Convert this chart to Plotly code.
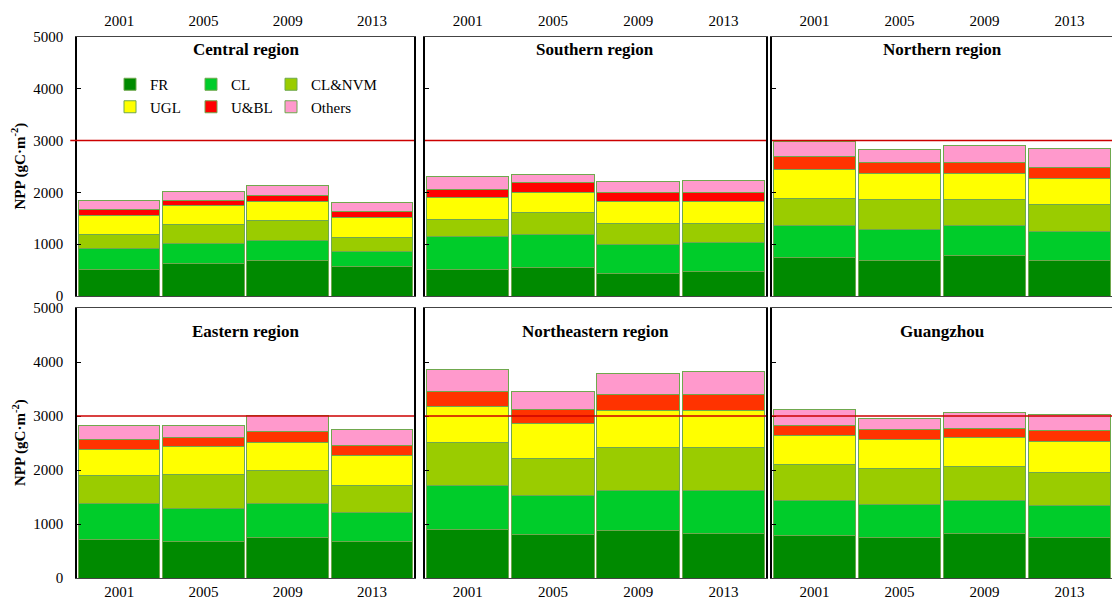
import plotly.graph_objects as go
from plotly.subplots import make_subplots

W, H = 1112, 601
FONT = "Liberation Serif, Times New Roman, serif"

years = ["2001", "2005", "2009", "2013"]
classes = ["FR", "CL", "CL&NVM", "UGL", "U&BL", "Others"]
regions = ["Central region", "Southern region", "Northern region",
           "Eastern region", "Northeastern region", "Guangzhou"]

# NPP of each land-use class per year (gC·m-2), stacked bottom to top
central = {
    "FR": [516, 632, 690, 568],
    "CL": [394, 387, 387, 290],
    "CL&NVM": [277, 362, 375, 277],
    "UGL": [361, 361, 374, 381],
    "U&BL": [117, 110, 122, 123],
    "Others": [174, 174, 194, 174],
}
southern = {
    "FR": [516, 548, 426, 471],
    "CL": [632, 646, 574, 568],
    "CL&NVM": [323, 425, 406, 367],
    "UGL": [432, 387, 426, 426],
    "U&BL": [162, 181, 162, 162],
    "Others": [238, 168, 212, 238],
}
northern = {
    "FR": [735, 684, 781, 684],
    "CL": [620, 606, 574, 555],
    "CL&NVM": [522, 568, 503, 522],
    "UGL": [562, 516, 516, 516],
    "U&BL": [245, 194, 207, 213],
    "Others": [306, 258, 322, 355],
}
eastern = {
    "FR": [710, 685, 753, 685],
    "CL": [667, 611, 624, 537],
    "CL&NVM": [524, 624, 617, 494],
    "UGL": [476, 518, 518, 549],
    "U&BL": [185, 155, 198, 198],
    "Others": [265, 234, 300, 296],
}
northeastern = {
    "FR": [901, 814, 876, 832],
    "CL": [807, 708, 739, 783],
    "CL&NVM": [795, 683, 801, 801],
    "UGL": [665, 665, 677, 677],
    "U&BL": [285, 254, 305, 305],
    "Others": [404, 336, 385, 434],
}
guangzhou = {
    "FR": [783, 758, 826, 758],
    "CL": [658, 608, 615, 577],
    "CL&NVM": [652, 659, 627, 628],
    "UGL": [553, 546, 528, 565],
    "U&BL": [174, 181, 180, 205],
    "Others": [298, 211, 280, 292],
}
region_data = [central, southern, northern, eastern, northeastern, guangzhou]

y_ticks = [0, 1000, 2000, 3000, 4000, 5000]
reference_level = 3000

colors = {
    "FR": "#008a00",
    "CL": "#00cc2a",
    "CL&NVM": "#9acc00",
    "UGL": "#ffff00",
    "U&BL": "#ff0000",
    "Others": "#ff99cc",
}
# the built-up class is drawn a touch more orange in the later panels
ubl_colors = ["#ff0000", "#ff0000", "#ff3300", "#ff3300", "#ff3300", "#ff3300"]
edge = "#6fa84e"

# legend columns: (FR, UGL), (CL, U&BL), (CL&NVM, Others)
legend_of = {"FR": "legend", "UGL": "legend",
             "CL": "legend2", "U&BL": "legend2",
             "CL&NVM": "legend3", "Others": "legend3"}

# panel placement in pixels
col_px = [(77, 414), (425, 766), (772, 1112)]
row_px = [(37, 296), (308, 578)]   # top / bottom pixel of each row's plot area

fig = make_subplots(rows=2, cols=3)

for i, (name, data) in enumerate(zip(regions, region_data)):
    r, c = divmod(i, 3)
    for cls in classes:
        col = ubl_colors[i] if cls == "U&BL" else colors[cls]
        fig.add_trace(
            go.Bar(
                x=years, y=data[cls], name=cls,
                marker=dict(color=col, line=dict(color=edge, width=1)),
                legendgroup=cls,
                showlegend=(i == 0),
                legend=legend_of[cls],
            ),
            row=r + 1, col=c + 1,
        )

layout_axes = {}
for i in range(6):
    r, c = divmod(i, 3)
    n = i + 1
    xk = "xaxis" if n == 1 else f"xaxis{n}"
    yk = "yaxis" if n == 1 else f"yaxis{n}"
    x0, x1 = col_px[c]
    t, b = row_px[r]
    layout_axes[xk] = dict(
        domain=[x0 / W, min(x1 / W, 1.0)],
        side="top" if r == 0 else "bottom",
        automargin=False,
        showline=True, linecolor="#444", linewidth=1, mirror=True,
        ticks="", showgrid=False, range=[-0.5, 3.5],
        ticklabelstandoff=4 if r == 0 else 0,
        tickfont=dict(family=FONT, size=15, color="black"),
    )
    layout_axes[yk] = dict(
        domain=[(H - b) / H, (H - t) / H],
        automargin=False,
        range=[0, 5000], tickvals=y_ticks,
        showticklabels=(c == 0),
        ticks="inside", ticklen=4, tickcolor="black",
        ticklabelstandoff=9,
        showline=True, linecolor="black", linewidth=1.5, mirror=True,
        showgrid=False, zeroline=False,
        tickfont=dict(family=FONT, size=15, color="black"),
    )

shapes = []
annotations = []
for i, name in enumerate(regions):
    r, c = divmod(i, 3)
    n = i + 1
    xs = "x" if n == 1 else f"x{n}"
    ys = "y" if n == 1 else f"y{n}"
    shapes.append(dict(
        type="line", xref=f"{xs} domain", yref=ys,
        x0=-0.02 if i == 0 else 0, x1=1, y0=reference_level, y1=reference_level,
        line=dict(color="#cc0000", width=1.5), layer="above",
    ))
    x0, x1 = col_px[c]
    t, b = row_px[r]
    ty = t + (12 if r == 0 else 23)
    annotations.append(dict(
        text=f"<b>{name}</b>", xref="paper", yref="paper",
        x=(x0 + x1) / 2 / W, y=1 - ty / H, xanchor="center", yanchor="middle",
        showarrow=False, font=dict(family=FONT, size=17, color="black"),
    ))

for t, b in row_px:
    annotations.append(dict(
        text="<b>NPP (gC·m<sup>-2</sup>)</b>", xref="paper", yref="paper",
        x=19 / W, y=1 - (t + b) / 2 / H, xanchor="center", yanchor="middle",
        textangle=-90, showarrow=False,
        font=dict(family=FONT, size=15, color="black"),
    ))

legend_common = dict(
    orientation="v", xanchor="left", yanchor="top",
    bgcolor="rgba(0,0,0,0)", borderwidth=0,
    font=dict(family=FONT, size=15, color="black"),
    traceorder="normal",
)

fig.update_layout(
    width=W, height=H,
    margin=dict(l=0, r=0, t=0, b=0, autoexpand=False),
    paper_bgcolor="white", plot_bgcolor="white",
    barmode="stack", bargap=0.03,
    font=dict(family=FONT, color="black"),
    legend=dict(x=110 / W, y=1 - 68 / H, **legend_common),
    legend2=dict(x=191 / W, y=1 - 68 / H, **legend_common),
    legend3=dict(x=271 / W, y=1 - 68 / H, **legend_common),
    shapes=shapes, annotations=annotations,
    **layout_axes,
)

fig.write_html("out.html")
